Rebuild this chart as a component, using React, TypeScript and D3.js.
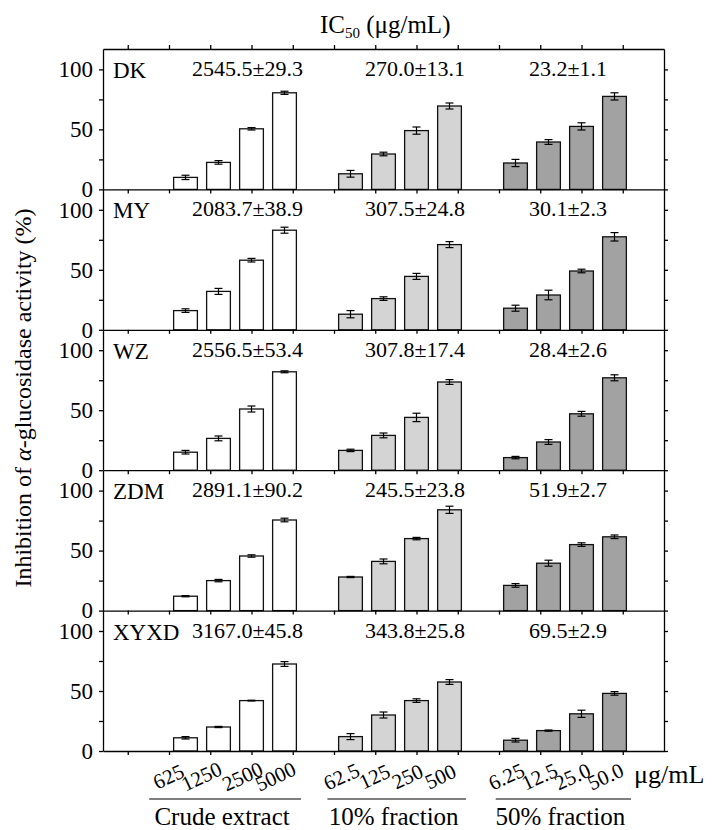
import React, { useEffect, useRef } from "react";
import * as d3 from "d3";

// samples (one panel each) and fractions
const samples = ["DK", "MY", "WZ", "ZDM", "XYXD"];
const groups = ["Crude extract", "10% fraction", "50% fraction"];
const doseLabels = [
  ["625", "1250", "2500", "5000"],
  ["62.5", "125", "250", "500"],
  ["6.25", "12.5", "25.0", "50.0"],
];

// IC50 text per sample (crude, 10%, 50%)
const ic50DK = ["2545.5±29.3", "270.0±13.1", "23.2±1.1"];
const ic50MY = ["2083.7±38.9", "307.5±24.8", "30.1±2.3"];
const ic50WZ = ["2556.5±53.4", "307.8±17.4", "28.4±2.6"];
const ic50ZDM = ["2891.1±90.2", "245.5±23.8", "51.9±2.7"];
const ic50XYXD = ["3167.0±45.8", "343.8±25.8", "69.5±2.9"];

// inhibition (%) : crude x4, 10% x4, 50% x4
const dkMean = [10, 22.5, 50.5, 80.5, 13, 29.5, 49, 69.5, 22, 39.5, 52.5, 77.5];
const dkErr = [1.8, 1.5, 1, 1.3, 2.8, 1.5, 3, 2.5, 3, 2, 3, 3];
const myMean = [16, 32, 58, 83, 13, 26, 44.5, 71, 18, 29, 49, 77.5];
const myErr = [1.5, 2.5, 1.5, 2.5, 3, 1.5, 2.5, 2.5, 2.5, 4, 1.5, 3.5];
const wzMean = [15, 26.5, 51, 82, 16.5, 29, 44, 73.5, 10.5, 23.5, 47, 77];
const wzErr = [1.5, 2, 2.5, 0.8, 1, 2, 3.5, 2, 1, 2, 2, 2.5];
const zdmMean = [12, 25, 45.5, 75.5, 28, 41, 60, 84, 21, 39.5, 55, 61.5];
const zdmErr = [0.5, 1, 1, 1.5, 0.5, 2, 1, 3, 1.5, 2.5, 1.5, 1.5];
const xyxdMean = [11, 20, 42, 72.5, 12, 30, 42, 57.5, 9, 17, 31, 48];
const xyxdErr = [1, 0.5, 0.3, 2, 2.5, 2.5, 1.5, 2, 1.5, 0.5, 3, 1.5];

const yTicks = [0, 25, 50, 75, 100];

const panelData = [
  { name: samples[0], ic: ic50DK, mean: dkMean, err: dkErr },
  { name: samples[1], ic: ic50MY, mean: myMean, err: myErr },
  { name: samples[2], ic: ic50WZ, mean: wzMean, err: wzErr },
  { name: samples[3], ic: ic50ZDM, mean: zdmMean, err: zdmErr },
  { name: samples[4], ic: ic50XYXD, mean: xyxdMean, err: xyxdErr },
];

const fills = ["#ffffff", "#d4d4d4", "#a2a2a2"];
const FONT = "Liberation Serif, Times New Roman, serif";

const App = () => {
  const ref = useRef(null);

  useEffect(() => {
    const svg = d3.select(ref.current);
    svg.selectAll("*").remove();

    const left = 103;
    const right = 664;
    const top0 = 49;
    const ph = 140.4;

    // 17 slots: 2 empty, 4 bars, 1 empty, 4 bars, 1 empty, 4 bars, 1 empty
    const xs = d3.scaleLinear().domain([0, 17]).range([left, right]);
    const slotW = xs(1) - xs(0);
    const bw = slotW * 0.72;
    const tickX = d3.scaleLinear().domain([-0.6, 13.0]).range([left, right]);

    const g = svg.append("g").attr("font-family", FONT);

    panelData.forEach((pd, p) => {
      const top = top0 + p * ph;
      const bottom = top + ph;
      const y = d3.scaleLinear().domain([0, 117]).range([bottom, top]);
      const panel = g.append("g");

      // bars
      pd.mean.forEach((m, i) => {
        const gi = Math.floor(i / 4);
        const di = i % 4;
        const xc = xs(gi * 5 + di + 2 + 0.5);
        panel
          .append("rect")
          .attr("x", xc - bw / 2)
          .attr("y", y(m))
          .attr("width", bw)
          .attr("height", y(0) - y(m))
          .attr("fill", fills[gi])
          .attr("stroke", "#111")
          .attr("stroke-width", 1.3);
        const e = pd.err[i];
        panel
          .append("line")
          .attr("x1", xc)
          .attr("x2", xc)
          .attr("y1", y(m - e))
          .attr("y2", y(m + e))
          .attr("stroke", "#000")
          .attr("stroke-width", 1.2);
        [m - e, m + e].forEach((v) => {
          panel
            .append("line")
            .attr("x1", xc - 4)
            .attr("x2", xc + 4)
            .attr("y1", y(v))
            .attr("y2", y(v))
            .attr("stroke", "#000")
            .attr("stroke-width", 1.2);
        });
      });

      // axes
      const yl = panel
        .append("g")
        .attr("transform", `translate(${left},0)`)
        .call(
          d3
            .axisLeft(y)
            .tickValues(yTicks)
            .tickSize(4)
            .tickSizeOuter(0)
            .tickPadding(6)
            .tickFormat((d) => (+d % 50 === 0 ? String(d) : ""))
        );
      yl.attr("font-family", FONT).attr("font-size", 23);
      yl.selectAll("text").attr("fill", "#000");

      panel
        .append("g")
        .attr("transform", `translate(${right},0)`)
        .call(d3.axisRight(y).tickValues(yTicks).tickSize(4).tickSizeOuter(0).tickFormat(() => ""));

      panel
        .append("g")
        .attr("transform", `translate(0,${bottom})`)
        .call(d3.axisBottom(tickX).tickValues(d3.range(0, 13)).tickSize(4).tickSizeOuter(0).tickFormat(() => ""));

      if (p === 0) {
        panel
          .append("g")
          .attr("transform", `translate(0,${top})`)
          .call(d3.axisTop(tickX).tickValues(d3.range(0, 13)).tickSize(4).tickSizeOuter(0).tickFormat(() => ""));
      }

      panel.selectAll(".domain, .tick line").attr("stroke", "#000").attr("stroke-width", 1.3);

      // sample name and IC50 texts
      panel
        .append("text")
        .attr("x", left + 10)
        .attr("y", top + 29)
        .attr("font-size", 23)
        .text(pd.name);

      const icX = [192, 365, 529];
      pd.ic.forEach((t, gi) => {
        panel
          .append("text")
          .attr("x", icX[gi])
          .attr("y", top + 27)
          .attr("font-size", 22)
          .text(t);
      });
    });

    const bottomY = top0 + 5 * ph;

    // dose labels
    doseLabels.forEach((labels, gi) => {
      labels.forEach((lab, di) => {
        const xc = xs(gi * 5 + di + 2 + 0.5) - (gi === 0 && di < 2 ? 14 : 6);
        g.append("text")
          .attr("transform", `translate(${xc},${bottomY + 32}) rotate(-25)`)
          .attr("text-anchor", "middle")
          .attr("font-size", 21)
          .text(lab);
      });
    });

    // group underline + names
    const lineStart = [1.4, 1.8, 1.9];
    groups.forEach((name, gi) => {
      const x1 = xs(gi * 5 + lineStart[gi]);
      const x2 = xs(gi * 5 + 6);
      g.append("line")
        .attr("x1", x1)
        .attr("x2", x2)
        .attr("y1", bottomY + 48)
        .attr("y2", bottomY + 48)
        .attr("stroke", "#000")
        .attr("stroke-width", 1.2);
      g.append("text")
        .attr("x", (x1 + x2) / 2 - 3)
        .attr("y", bottomY + 74)
        .attr("text-anchor", "middle")
        .attr("font-size", 25)
        .text(name);
    });

    g.append("text")
      .attr("x", 634)
      .attr("y", bottomY + 32)
      .attr("font-size", 26)
      .text("μg/mL");

    // title
    const title = g.append("text").attr("x", 320).attr("y", 33).attr("font-size", 25);
    title.append("tspan").text("IC");
    title.append("tspan").attr("dy", 5).attr("font-size", 15).text("50");
    title.append("tspan").attr("dy", -5).text(" (μg/mL)");

    // y label
    const ylab = g
      .append("text")
      .attr("transform", `translate(31,398) rotate(-90)`)
      .attr("text-anchor", "middle")
      .attr("font-size", 24);
    ylab.append("tspan").text("Inhibition of ");
    ylab.append("tspan").attr("font-style", "italic").text("α");
    ylab.append("tspan").text("-glucosidase activity (%)");
  }, []);

  return (
    <svg
      ref={ref}
      width={717}
      height={830}
      style={{ position: "absolute", left: 0, top: 0, background: "#fff" }}
    ></svg>
  );
};

export default App;
